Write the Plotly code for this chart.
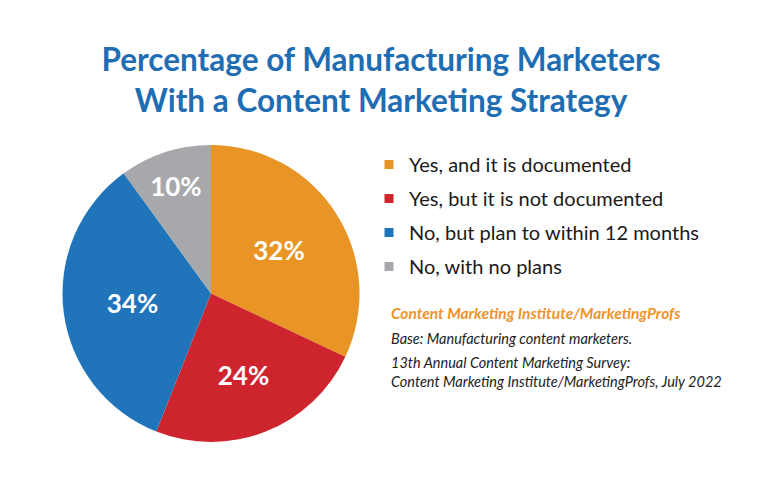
import plotly.graph_objects as go

# Data
labels = ["Yes, and it is documented", "Yes, but it is not documented",
          "No, but plan to within 12 months", "No, with no plans"]
values = [32, 24, 34, 10]
colors = ["#E99526", "#CE242D", "#1F74BA", "#A7A8AB"]

title_text = "Percentage of Manufacturing Marketers<br>With a Content Marketing Strategy"
source_name = "Content Marketing Institute/MarketingProfs"
source_notes = ["Base: Manufacturing content marketers.",
                "13th Annual Content Marketing Survey:<br>Content Marketing Institute/MarketingProfs, July 2022"]

W, H = 762, 486
OFF = 8  # page body margin


def px(x):
    return (x - OFF) / W


def py(y):
    return 1 - (y - OFF) / H


fig = go.Figure()

# the pie itself (legend drawn with dummy traces so spacing can be set)
fig.add_trace(go.Pie(
    labels=labels,
    values=values,
    sort=False,
    direction="clockwise",
    rotation=0,
    marker=dict(colors=colors, line=dict(width=0)),
    texttemplate="%{value}%",
    textposition="inside",
    insidetextorientation="horizontal",
    textfont=dict(family="Lato", size=26, color="white", weight="bold"),
    domain=dict(x=[px(62), px(360)], y=[py(442), py(145)]),
    showlegend=False,
    hoverinfo="label+percent",
))

# legend entries
for lab, col in zip(labels, colors):
    fig.add_trace(go.Scatter(
        x=[None], y=[None], mode="markers", name=lab, legendgroup=lab,
        marker=dict(symbol="square", size=9, color=col),
    ))

fig.update_layout(
    width=W, height=H,
    margin=dict(l=0, r=0, t=0, b=0),
    paper_bgcolor="white",
    plot_bgcolor="white",
    xaxis=dict(visible=False),
    yaxis=dict(visible=False),
    title=dict(text="<b>" + title_text + "</b>", x=px(381), xanchor="center",
               y=py(71), yanchor="middle",
               font=dict(family="Lato", size=31.5, color="#1F6DB3")),
    legend=dict(x=px(369), xanchor="left", y=py(145), yanchor="top",
                font=dict(family="Lato", size=20, color="#1a1a1a"),
                tracegroupgap=5, bgcolor="rgba(0,0,0,0)"),
)

# source block
fig.add_annotation(text="<b><i>" + source_name + "</i></b>", x=px(389), y=py(313),
                   xref="paper", yref="paper", xanchor="left", yanchor="middle", showarrow=False,
                   font=dict(family="Lato", size=15.5, color="#F0932A"))
fig.add_annotation(text="<i>" + source_notes[0] + "</i>", x=px(389), y=py(338),
                   xref="paper", yref="paper", xanchor="left", yanchor="middle", showarrow=False,
                   font=dict(family="Lato", size=14.5, color="#222222"))
fig.add_annotation(text="<i>" + source_notes[1] + "</i>", x=px(389), y=py(372),
                   xref="paper", yref="paper", xanchor="left", yanchor="middle", showarrow=False,
                   align="left", font=dict(family="Lato", size=14.5, color="#222222"))

fig.write_html("out.html")
